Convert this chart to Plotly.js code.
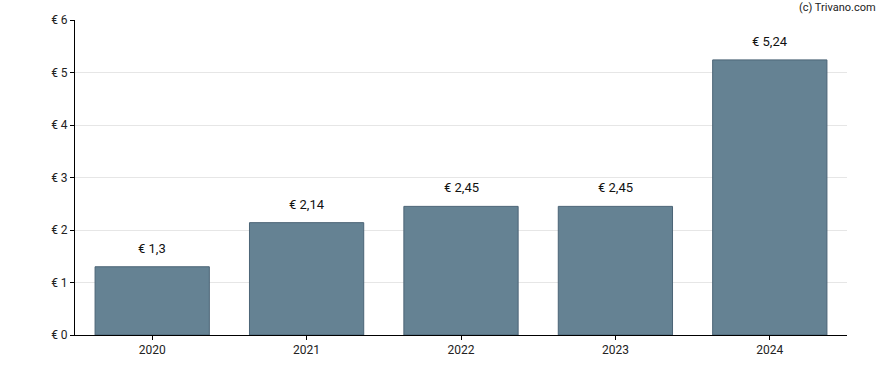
<!DOCTYPE html>
<html><head><meta charset="utf-8">
<script src="https://cdn.plot.ly/plotly-3.0.1.min.js"></script>
<style>html,body{margin:0;padding:0;background:#fff}#c{width:888px;height:370px}</style>
</head><body><div id="c"></div>
<script>
const years = ['2020','2021','2022','2023','2024'];
const values = [1.3, 2.14, 2.45, 2.45, 5.24];
const labels = ['€ 1,3','€ 2,14','€ 2,45','€ 2,45','€ 5,24'];
const yTickVals = [0,1,2,3,4,5,6];
const yTickText = ['€ 0','€ 1','€ 2','€ 3','€ 4','€ 5','€ 6'];

const font = {family:'Roboto, Arial, sans-serif', size:12, color:'#222'};
const annotations = years.map((y,i)=>({x:i, y:values[i], text:labels[i], showarrow:false,
  yanchor:'bottom', yshift:9, font:{family:font.family, size:13, color:'#111'}}));
annotations.push({xref:'paper', yref:'paper', x:1.04, y:1.0, xanchor:'right', yanchor:'bottom', yshift:4,
  text:'(c) Trivano.com', showarrow:false, font:{family:font.family, size:11, color:'#222'}});

Plotly.newPlot('c', [{
  type:'bar', x:years, y:values,
  marker:{color:'rgba(101,130,147,1)', line:{color:'#4b6476', width:1}},
  hoverinfo:'none'
}], {
  width:888, height:370,
  margin:{l:75, r:41, t:20, b:35},
  paper_bgcolor:'#fff', plot_bgcolor:'#fff',
  font:font, showlegend:false, bargap:0.26,
  xaxis:{type:'category', range:[-0.5,4.5], autorange:false, showline:true, linecolor:'#000', linewidth:1, ticks:'outside', ticklen:4, tickcolor:'#000',
    showgrid:false, tickfont:{size:12, color:'#222'}},
  yaxis:{range:[0,6], autorange:false, tickvals:yTickVals, ticktext:yTickText, showline:true, linecolor:'#000', linewidth:1,
    ticks:'outside', ticklen:4, tickcolor:'#000', showgrid:true, gridcolor:'#e6e6e6', zeroline:false,
    tickfont:{size:12, color:'#222'}},
  annotations:annotations
}, {staticPlot:true});
</script></body></html>
